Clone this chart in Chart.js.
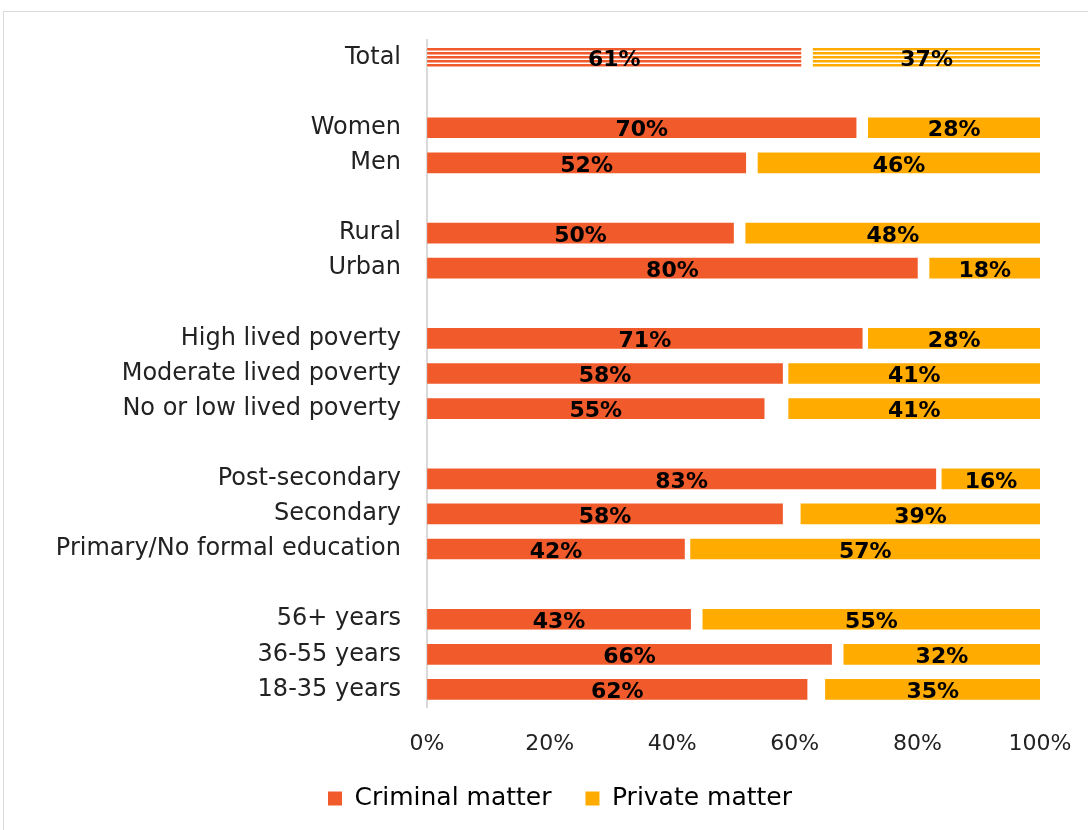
<!DOCTYPE html>
<html>
<head>
<meta charset="utf-8">
<script src="https://cdn.jsdelivr.net/npm/chart.js@4/dist/chart.umd.min.js"></script>
<style>
  body { margin: 0; background: #fff; overflow: hidden; }
  #box { position: absolute; left: 3px; top: 11px; width: 1100px; height: 840px; border: 1px solid #d9d9d9; }
  #chart { display: block; }
</style>
</head>
<body>
<div id="box"><canvas id="chart" width="1084" height="818"></canvas></div>
<script>
// categories (blank rows separate the groups)
const categories = ['Total', '', 'Women', 'Men', '', 'Rural', 'Urban', '',
  'High lived poverty', 'Moderate lived poverty', 'No or low lived poverty', '',
  'Post-secondary', 'Secondary', 'Primary/No formal education', '',
  '56+ years', '36-55 years', '18-35 years'];

const criminalMatter = [61, null, 70, 52, null, 50, 80, null, 71, 58, 55, null, 83, 58, 42, null, 43, 66, 62];
// unlabelled remainder (no fill) between the two segments
const remainder     = [2, null, 2, 2, null, 2, 2, null, 1, 1, 4, null, 1, 3, 1, null, 2, 2, 3];
const privateMatter = [37, null, 28, 46, null, 48, 18, null, 28, 41, 41, null, 16, 39, 57, null, 55, 32, 35];

const xTicks = [0, 20, 40, 60, 80, 100];

const RED = '#F15A2B';
const AMBER = '#FFAB00';
const FONT = "'DejaVu Sans', sans-serif";

function stripes(color){
  const c = document.createElement('canvas');
  c.width = 4; c.height = 4;
  const g = c.getContext('2d');
  g.fillStyle = '#fff';
  g.fillRect(0, 0, 4, 4);
  g.fillStyle = color;
  g.fillRect(0, 0, 4, 2);
  g.globalAlpha = 0.5;
  g.fillRect(0, 2, 4, 1);
  return g.createPattern(c, 'repeat');
}

function fills(color){
  return categories.map((c, i) => i === 0 ? stripes(color) : color);
}

// draw value labels in the middle of each visible segment
const valueLabels = {
  id: 'valueLabels',
  afterDatasetsDraw(chart){
    const g = chart.ctx;
    g.save();
    g.font = "bold 22px " + FONT;
    g.fillStyle = '#000';
    g.textAlign = 'center';
    g.textBaseline = 'middle';
    [0, 2].forEach(di => {
      const meta = chart.getDatasetMeta(di);
      meta.data.forEach((el, i) => {
        const v = chart.data.datasets[di].data[i];
        if(v == null) return;
        const p = el.getProps(['x', 'y', 'base'], true);
        g.fillText(v + '%', (p.x + p.base) / 2, p.y + 3);
      });
    });
    g.restore();
  }
};

// legend sits a little right of the canvas centre in the original
const legendShift = {
  id: 'legendShift',
  afterLayout(chart){
    chart.legend.left += 38;
    chart.legend.right += 38;
  }
};

// invisible tick marks push the labels away without adding edge padding
const hiddenTicks = len => ({ display: true, drawOnChartArea: false, drawTicks: true, tickLength: len, tickColor: 'rgba(0,0,0,0)' });

new Chart(document.getElementById('chart'), {
  type: 'bar',
  data: {
    labels: categories,
    datasets: [
      { label: 'Criminal matter', data: criminalMatter, backgroundColor: fills(RED), barThickness: 20 },
      { label: 'remainder', data: remainder, backgroundColor: 'rgba(0,0,0,0)', barThickness: 20 },
      { label: 'Private matter', data: privateMatter, backgroundColor: fills(AMBER), barThickness: 20 }
    ]
  },
  options: {
    indexAxis: 'y',
    responsive: false,
    animation: false,
    layout: { padding: { top: 28, right: 48, bottom: 9, left: 0 } },
    plugins: {
      legend: {
        position: 'bottom',
        labels: {
          boxWidth: 14, boxHeight: 14, padding: 34,
          color: '#222', font: { family: FONT, size: 25 },
          generateLabels(chart){
            return [0, 2].map(i => ({
              text: chart.data.datasets[i].label,
              fillStyle: i === 0 ? RED : AMBER,
              strokeStyle: 'rgba(0,0,0,0)', lineWidth: 0, datasetIndex: i
            }));
          }
        }
      },
      tooltip: { enabled: false }
    },
    scales: {
      x: {
        stacked: true, min: 0, max: 100,
        afterBuildTicks: s => { s.ticks = xTicks.map(v => ({ value: v })); },
        afterFit: s => { s.height = 45; },
        grid: hiddenTicks(22),
        border: { display: false },
        ticks: { padding: 2, color: '#222', font: { family: FONT, size: 22 }, callback: v => v + '%' }
      },
      y: {
        stacked: true,
        afterFit: s => { s.width = 423; },
        grid: hiddenTicks(24),
        border: { display: true, color: '#d9d9d9', width: 2 },
        ticks: { padding: 2, color: '#222', autoSkip: false, font: { family: FONT, size: 24 } }
      }
    }
  },
  plugins: [valueLabels, legendShift]
});
</script>
</body>
</html>
